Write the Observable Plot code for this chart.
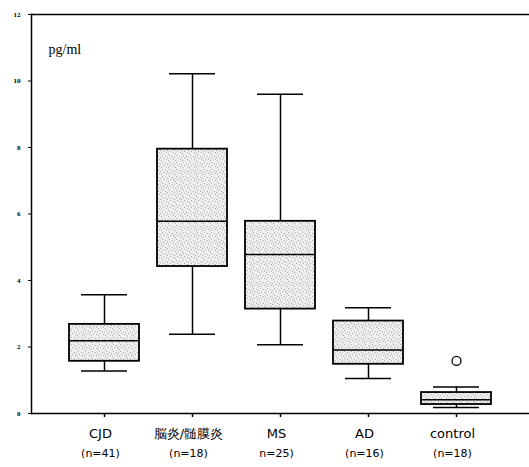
<!DOCTYPE html>
<html><head><meta charset="utf-8">
<script src="https://cdn.jsdelivr.net/npm/d3@7"></script>
<script src="https://cdn.jsdelivr.net/npm/@observablehq/plot@0.6"></script>
<style>body{margin:0;background:#fff}</style>
</head><body><div id="chart"></div>
<script>
const groups = ["CJD", "脳炎/髄膜炎", "MS", "AD", "control"];
const counts = ["(n=41)", "(n=18)", "n=25)", "(n=16)", "(n=18)"];
const whiskerLow = [1.28, 2.38, 2.07, 1.05, 0.18];
const q1 = [1.57, 4.42, 3.14, 1.48, 0.27];
const median = [2.19, 5.78, 4.78, 1.91, 0.41];
const q3 = [2.68, 7.95, 5.78, 2.78, 0.63];
const whiskerHigh = [3.57, 10.22, 9.6, 3.18, 0.8];
const outlierGroups = ["control"];
const outlierValues = [1.58];
const yTicks = [0, 2, 4, 6, 8, 10, 12];

const rows = groups.map((g, i) => ({g, n: counts[i], lo: whiskerLow[i], q1: q1[i], med: median[i], q3: q3[i], hi: whiskerHigh[i]}));
const outliers = outlierGroups.map((g, i) => ({g, v: outlierValues[i]}));
const font = "DejaVu Sans, Verdana, sans-serif";

const plot = Plot.plot({
  width: 529, height: 467,
  marginLeft: 31, marginRight: 0, marginTop: 14, marginBottom: 54,
  style: {background: "#fff"},
  x: {domain: groups, paddingInner: 0.2, paddingOuter: 0.41},
  y: {domain: [0, 12]},
  marks: [
    Plot.ruleY([0, 12], {stroke: "#000", strokeWidth: 1.5}),
    Plot.frame({anchor: "left", stroke: "#000", strokeWidth: 1.5}),
    Plot.axisY({ticks: yTicks, tickSize: 3, tickPadding: 8, fontSize: 7, fontWeight: "bold", fontFamily: "Liberation Serif, serif", stroke: "#000", label: null}),
    Plot.axisX({tickSize: 4, tickFormat: () => "", stroke: "#000", strokeWidth: 1.5, label: null}),
    Plot.ruleX(rows, {x: "g", y1: "lo", y2: "q1", stroke: "#000", strokeWidth: 1.5}),
    Plot.ruleX(rows, {x: "g", y1: "q3", y2: "hi", stroke: "#000", strokeWidth: 1.5}),
    Plot.tickY(rows, {x: "g", y: "lo", stroke: "#000", strokeWidth: 1.5, inset: 12}),
    Plot.tickY(rows, {x: "g", y: "hi", stroke: "#000", strokeWidth: 1.5, inset: 12}),
    Plot.barY(rows, {x: "g", y1: "q1", y2: "q3", fill: "url(#stipple)", stroke: "#000", strokeWidth: 1.8}),
    Plot.tickY(rows, {x: "g", y: "med", stroke: "#000", strokeWidth: 1.5}),
    Plot.dot(outliers, {x: "g", y: "v", r: 4.5, stroke: "#000", strokeWidth: 1.3, fill: "none"}),
    Plot.text(rows, {x: "g", frameAnchor: "bottom", text: "g", dy: 24, dx: -4, fontSize: 13, fontFamily: font, fill: "#000"}),
    Plot.text(rows, {x: "g", frameAnchor: "bottom", text: "n", dy: 43, dx: -4, fontSize: 11, fontFamily: font, fill: "#000"}),
    Plot.text(["pg/ml"], {frameAnchor: "top-left", dx: 17, dy: 30, textAnchor: "start", fontSize: 14, fontFamily: "Liberation Serif, serif", fill: "#000"})
  ]
});
const svg = d3.select(plot);
const defs = svg.insert("defs", ":first-child");
const pat = defs.append("pattern").attr("id", "stipple").attr("patternUnits", "userSpaceOnUse").attr("width", 7).attr("height", 7);
pat.append("rect").attr("width", 7).attr("height", 7).attr("fill", "#eeeeee");
[[1,1],[4,2],[2,4],[5,5],[0,6],[6,3]].forEach(([x,y]) => pat.append("rect").attr("x", x).attr("y", y).attr("width", 1).attr("height", 1).attr("fill", "#a8a8a8"));
document.getElementById("chart").appendChild(plot);
</script></body></html>
